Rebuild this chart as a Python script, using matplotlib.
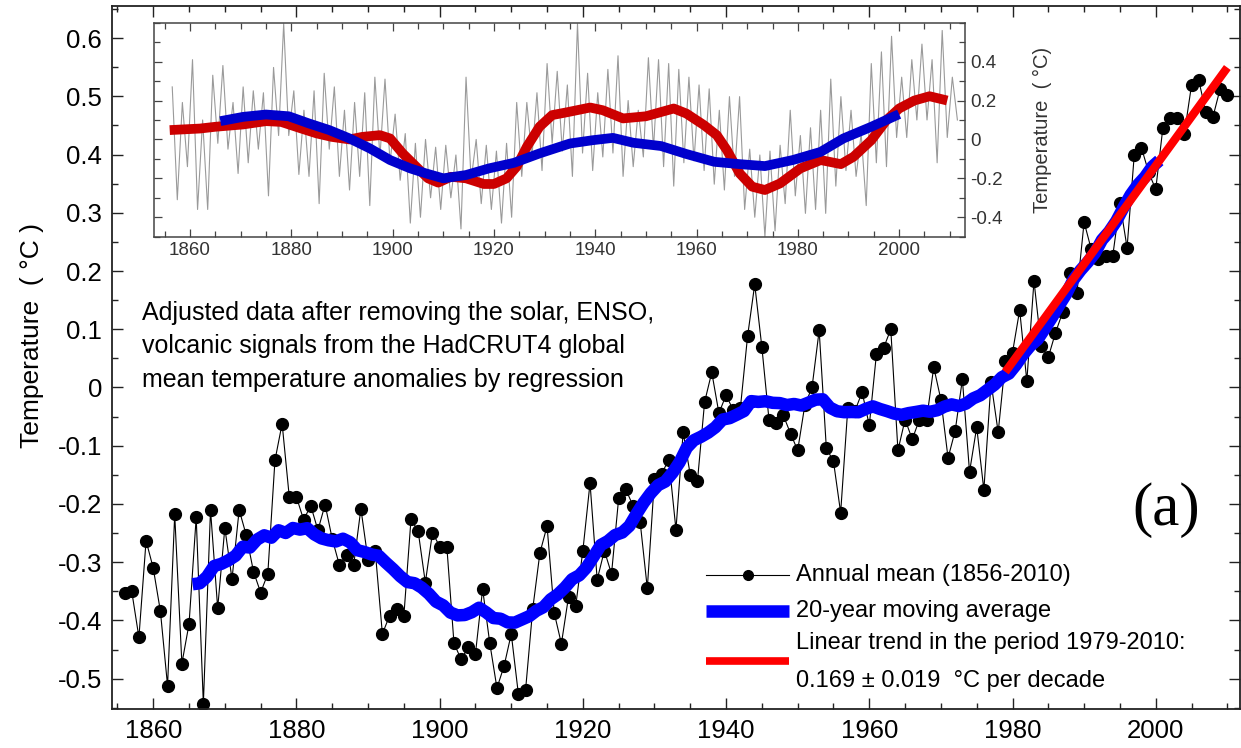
import numpy as np
import matplotlib.pyplot as plt
from matplotlib.lines import Line2D
from matplotlib.ticker import MultipleLocator, FixedLocator, FuncFormatter

plt.rcParams['font.family'] = ['Liberation Sans', 'DejaVu Sans']

# annual mean, adjusted HadCRUT4 (1856-2010), one value per year
years = np.arange(1856, 2011)
annual = [
    -0.353, -0.350, -0.429, -0.263,                                          # 1856-1859
    -0.310, -0.384, -0.512, -0.218, -0.474, -0.406, -0.223, -0.543, -0.210, -0.379,  # 1860s
    -0.241, -0.329, -0.210, -0.254, -0.316, -0.352, -0.320, -0.125, -0.062, -0.188,  # 1870s
    -0.188, -0.227, -0.203, -0.245, -0.201, -0.260, -0.305, -0.287, -0.304, -0.208,  # 1880s
    -0.296, -0.280, -0.423, -0.392, -0.381, -0.392, -0.226, -0.247, -0.335, -0.249,  # 1890s
    -0.273, -0.273, -0.439, -0.467, -0.446, -0.457, -0.346, -0.439, -0.516, -0.478,  # 1900s
    -0.423, -0.527, -0.519, -0.380, -0.284, -0.238, -0.387, -0.440, -0.359, -0.375,  # 1910s
    -0.280, -0.164, -0.330, -0.280, -0.320, -0.190, -0.175, -0.203, -0.231, -0.345,  # 1920s
    -0.157, -0.148, -0.124, -0.244, -0.077, -0.150, -0.161, -0.025, 0.026, -0.044,   # 1930s
    -0.013, -0.039, -0.035, 0.088, 0.177, 0.069, -0.056, -0.061, -0.048, -0.079,     # 1940s
    -0.108, -0.030, 0.000, 0.098, -0.104, -0.127, -0.215, -0.035, -0.040, -0.008,    # 1950s
    -0.065, 0.058, 0.068, 0.100, -0.108, -0.055, -0.089, -0.055, -0.055, 0.035,      # 1960s
    -0.021, -0.121, -0.074, 0.014, -0.145, -0.068, -0.176, 0.009, -0.077, 0.045,     # 1970s
    0.060, 0.133, 0.011, 0.183, 0.071, 0.052, 0.094, 0.129, 0.197, 0.163,            # 1980s
    0.284, 0.237, 0.220, 0.226, 0.226, 0.317, 0.240, 0.399, 0.412, 0.370,            # 1990s
    0.340, 0.446, 0.463, 0.463, 0.436, 0.519, 0.528, 0.473, 0.465, 0.513,            # 2000s
    0.503,                                                                   # 2010
]
trend_start, trend_end = 1979, 2010

# inset: smoothed curves
inset_red_years = [1856, 1862, 1865, 1870.5, 1875, 1878, 1882, 1885, 1888, 1891.5,
                   1894, 1897.5, 1899.5, 1902, 1905, 1907, 1909, 1911.5, 1914.5, 1918,
                   1920, 1922.5, 1924.5, 1926.5, 1929, 1931.5, 1934.5, 1939, 1941.5, 1945.5,
                   1950, 1955.5, 1958, 1961.5, 1964, 1966, 1968.5, 1971, 1973.5, 1976.5,
                   1980.5, 1984.5, 1988.5, 1991, 1994.5, 1997.5, 2000, 2003, 2006, 2009.5]
inset_red = [0.048, 0.056, 0.065, 0.077, 0.094, 0.090, 0.056, 0.031, 0.013, 0.000,
             0.013, 0.022, 0.005, -0.072, -0.149, -0.200, -0.222, -0.192, -0.200, -0.229,
             -0.229, -0.200, -0.140, -0.038, 0.065, 0.125, 0.140, 0.164, 0.150, 0.108,
             0.119, 0.159, 0.133, 0.073, 0.022, -0.055, -0.174, -0.243, -0.260, -0.226,
             -0.149, -0.106, -0.127, -0.089, -0.004, 0.099, 0.159, 0.200, 0.222, 0.200]
inset_blue_years = [1866, 1870.5, 1875, 1879.5, 1883.5, 1887.5, 1891.5, 1895.5, 1899.5, 1903.5,
                    1906.5, 1910, 1914.5, 1919, 1924, 1929, 1935, 1939.5, 1943.5, 1947.5,
                    1953, 1958, 1963.5, 1968.5, 1973.5, 1979, 1984.5, 1989, 1994.5, 2000]
inset_blue = [0.094, 0.116, 0.128, 0.119, 0.082, 0.048, 0.005, -0.046, -0.106, -0.149,
              -0.174, -0.200, -0.183, -0.149, -0.120, -0.072, -0.021, -0.004, 0.008, -0.017,
              -0.034, -0.075, -0.115, -0.127, -0.137, -0.106, -0.064, 0.005, 0.065, 0.130]

# inset: monthly series, kept as high / low per two-year block
gray_start = np.arange(1856, 2012, 2)
gray_hi = [0.27, 0.19, 0.41, 0.10, 0.33, 0.38, 0.19, 0.27, 0.25, 0.24,
           0.37, 0.595, 0.25, 0.15, 0.25, 0.34, 0.27, 0.15, 0.19, 0.24,
           0.32, 0.31, 0.13, 0.03, -0.02, 0.00, -0.04, -0.03, -0.08, 0.32,
           0.00, -0.03, -0.06, -0.02, 0.19, 0.19, 0.24, 0.39, 0.35, 0.28,
           0.595, 0.34, 0.24, 0.36, 0.43, 0.20, 0.15, 0.42, 0.41, 0.39,
           0.36, 0.32, 0.28, 0.26, 0.15, 0.22, 0.22, -0.05, -0.08, -0.06,
           -0.03, 0.15, 0.02, 0.06, 0.15, 0.31, 0.22, 0.15, 0.03, 0.39,
           0.45, 0.53, 0.32, 0.41, 0.49, 0.41, 0.56, 0.32]
gray_lo = [-0.31, -0.14, -0.36, -0.36, -0.02, -0.05, -0.175, -0.12, -0.05, -0.29,
           0.02, 0.02, -0.18, -0.19, -0.33, -0.05, -0.19, -0.26, -0.19, -0.34,
           -0.09, -0.12, -0.21, -0.43, -0.40, -0.30, -0.36, -0.30, -0.46, -0.21,
           -0.33, -0.36, -0.43, -0.40, -0.19, -0.09, -0.16, -0.02, -0.06, -0.19,
           -0.07, -0.16, -0.09, -0.07, -0.19, -0.14, -0.09, -0.05, -0.14, -0.24,
           -0.12, -0.11, -0.16, -0.23, -0.26, -0.19, -0.36, -0.40, -0.50, -0.47,
           -0.33, -0.29, -0.38, -0.36, -0.38, -0.24, -0.16, -0.19, -0.34, -0.12,
           -0.14, 0.01, 0.01, 0.10, 0.10, -0.12, 0.01, 0.10]

W, H = 1241, 748


def fx(px):
    return px / W


def fy(py):
    return 1 - py / H


fmt = FuncFormatter(lambda v, p: '%g' % round(v, 2))

fig = plt.figure(figsize=(W / 100, H / 100), dpi=100)
ax = fig.add_axes([fx(111.7), fy(709), fx(1239.5) - fx(111.7), fy(6) - fy(709)])

annual = np.array(annual)
ax.plot(years, annual, color='black', lw=0.8, marker='o', ms=8.5, zorder=2)

# 20-year moving average, centred
ma = np.convolve(annual, np.ones(20) / 20, mode='valid')
ma_years = years[:len(ma)] + 9.5
ax.plot(ma_years, ma, color='#0000ff', lw=9, solid_capstyle='butt', zorder=3)

# linear trend 1979-2010
sel = years >= trend_start
k, b = np.polyfit(years[sel], annual[sel], 1)
ty = np.array([trend_start, trend_end])
ax.plot(ty, k * ty + b, color='#ff0000', lw=6, solid_capstyle='butt', zorder=4)

ax.set_xlim(1854.2, 2011.7)
ax.set_ylim(-0.552, 0.655)
ax.xaxis.set_major_locator(MultipleLocator(20))
ax.xaxis.set_minor_locator(MultipleLocator(5))
ax.yaxis.set_major_locator(MultipleLocator(0.1))
ax.yaxis.set_minor_locator(MultipleLocator(0.05))
ax.yaxis.set_major_formatter(fmt)
ax.tick_params(which='both', direction='in', top=True, right=True,
               labelsize=18.5, pad=7, width=1, colors='#222222', labelcolor='black')
ax.tick_params(which='major', length=8)
ax.tick_params(which='minor', length=4.5)
for s in ax.spines.values():
    s.set_linewidth(1.3)
    s.set_color('#222222')

fig.text(fx(32), fy(336), 'Temperature  ( °C )', rotation=90,
         ha='center', va='center', fontsize=19)
# va='baseline' pins the last line's baseline
fig.text(fx(142), fy(387),
         'Adjusted data after removing the solar, ENSO,\n'
         'volcanic signals from the HadCRUT4 global\n'
         'mean temperature anomalies by regression',
         fontsize=18, va='baseline', ha='left', linespacing=1.5)
fig.text(fx(1166), fy(510), '(a)', family=['Liberation Serif', 'DejaVu Serif'],
         fontsize=44, ha='center', va='center')

# legend, drawn by hand so the red key sits between its two text lines
hx = [fx(706), fx(789)]
fig.add_artist(Line2D(hx, [fy(574.5)] * 2, color='black', lw=0.8))
fig.add_artist(Line2D([fx(747.5)], [fy(574.5)], color='black', marker='o', ms=7))
fig.add_artist(Line2D(hx, [fy(610.7)] * 2, color='#0000ff', lw=9, solid_capstyle='butt'))
fig.add_artist(Line2D(hx, [fy(661)] * 2, color='#ff0000', lw=5.5, solid_capstyle='butt'))
labels = ['Annual mean (1856-2010)', '20-year moving average',
          'Linear trend in the period 1979-2010:', '0.169 ± 0.019  °C per decade']
for lab, row in zip(labels, [574.5, 610.7, 643.4, 681.4]):
    fig.text(fx(796), fy(row), lab, fontsize=17, va='center', ha='left')

# inset panel
ins = fig.add_axes([fx(154), fy(236.7), fx(965) - fx(154), fy(22.7) - fy(236.7)])
ins.set_facecolor('white')
gx = np.column_stack([gray_start + 0.5, gray_start + 1.5]).ravel()
gy = np.column_stack([gray_hi, gray_lo]).ravel()
ins.plot(gx, gy, color='#9a9a9a', lw=0.8)
ins.plot(inset_red_years, inset_red, color='#cc0000', lw=7, solid_capstyle='butt')
ins.plot(inset_blue_years, inset_blue, color='#0000cc', lw=7, solid_capstyle='butt')
ins.set_xlim(1852.9, 2013.0)
ins.set_ylim(-0.5, 0.6)
ins.xaxis.set_major_locator(MultipleLocator(20))
ins.xaxis.set_minor_locator(MultipleLocator(5))
ins.yaxis.set_major_locator(FixedLocator([-0.4, -0.2, 0, 0.2, 0.4]))
ins.yaxis.set_minor_locator(MultipleLocator(0.1))
ins.yaxis.set_major_formatter(fmt)
ins.tick_params(which='both', direction='in', top=True, bottom=True, left=True, right=True,
                labelleft=False, labelright=True, labelsize=13.5, pad=4,
                width=0.9, colors='#444444', labelcolor='#333333')
ins.tick_params(which='major', length=6)
ins.tick_params(which='minor', length=4)
for s in ins.spines.values():
    s.set_linewidth(1.1)
    s.set_color('#444444')
ins.set_ylabel('Temperature  ( °C)', fontsize=14.5, color='#333333')
ins.yaxis.set_label_position('right')
ins.yaxis.set_label_coords(1.084, 0.5)

fig.savefig('out.png', dpi=100)
